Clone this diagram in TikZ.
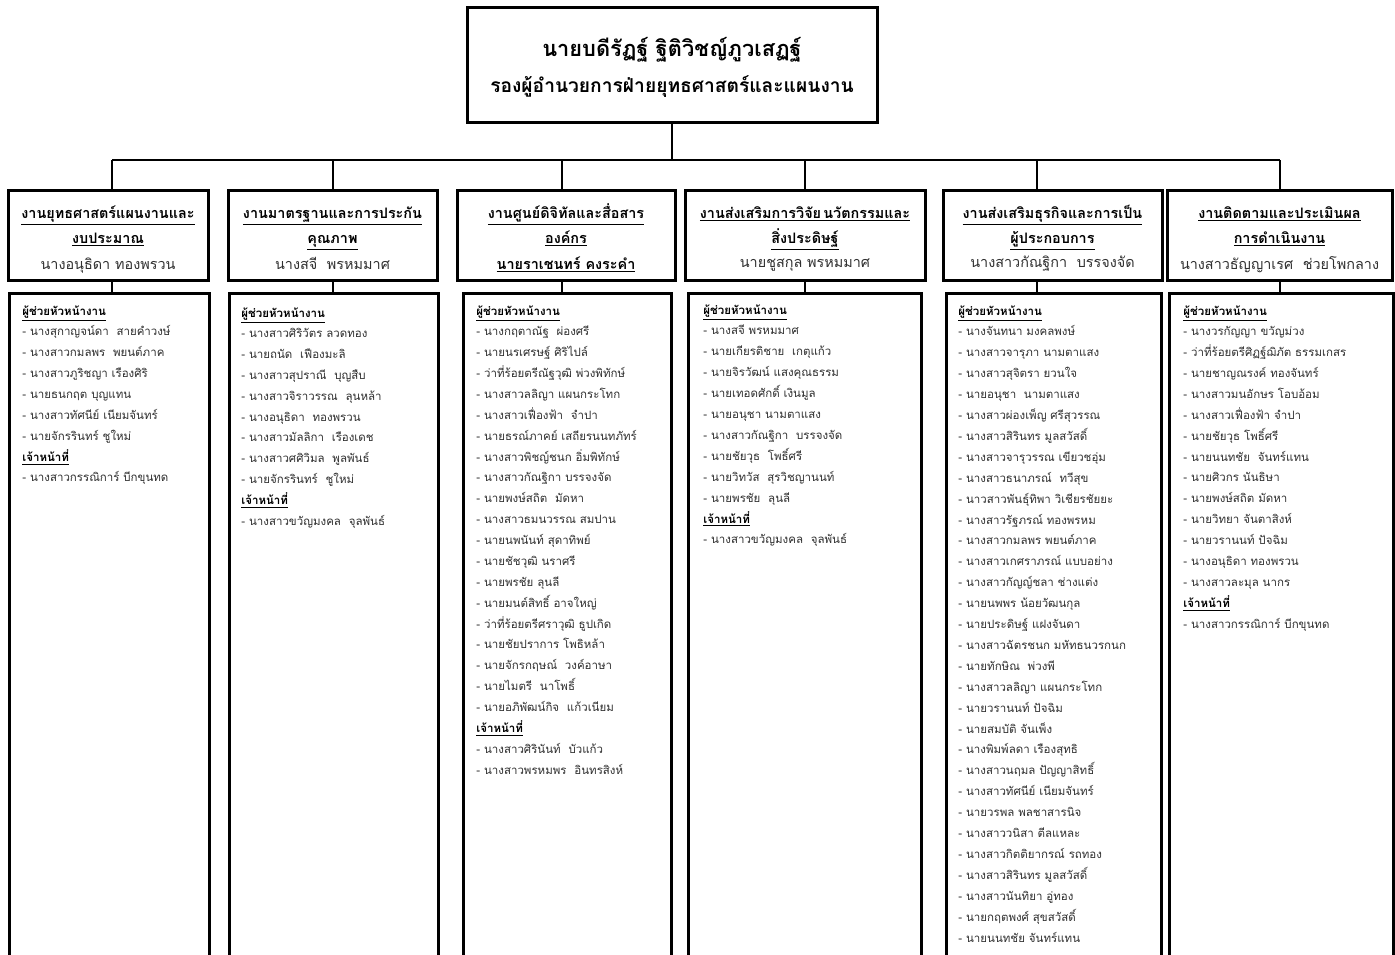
\documentclass[tikz,border=0pt]{standalone}
\usepackage{fontspec}
\setmainfont[Script=Thai]{Loma}
\usetikzlibrary{calc}
\definecolor{txt}{HTML}{303030}
\newcommand{\hd}[1]{\textcolor{black}{\textbf{\underline{#1}}}}
\newcommand{\ulb}[1]{\textbf{\underline{#1}}}
\begin{document}
\begin{tikzpicture}[x=0.5pt,y=-0.5pt,
  box/.style={draw, line width=1.5pt, inner sep=0pt, fill=white},
  conn/.style={line width=1pt},
  item/.style={anchor=base west, inner sep=0pt, font=\fontsize{5.75}{7}\selectfont, text=txt},
  htitle/.style={anchor=base, inner sep=0pt, font=\fontsize{7.2}{8}\selectfont},
  hname/.style={anchor=base, inner sep=0pt, font=\fontsize{7.2}{9}\selectfont, text=txt},
  ttitle/.style={anchor=base, inner sep=0pt, font=\fontsize{10.9}{12}\selectfont\bfseries},
  tsub/.style={anchor=base, inner sep=0pt, font=\fontsize{9.6}{12}\selectfont\bfseries},
]
\useasboundingbox (0,0) rectangle (1395,954);
\clip (0,0) rectangle (1395,954);
\fill[white] (0,0) rectangle (1395,954);

% top box
\node[box, minimum width=205pt, minimum height=57.5pt] (top) at (672,64.5) {};
\node[ttitle] (t1) at (672,56) {นายบดีรัฏฐ์ ฐิติวิชญ์ภูวเสฏฐ์};
\node[tsub] (t2) at (672,92) {รองผู้อำนวยการฝ่ายยุทธศาสตร์และแผนงาน};

% header boxes
\node[box, minimum width=100pt, minimum height=45pt] (h1) at (108,235) {};
\node[box, minimum width=104.5pt, minimum height=45pt] (h2) at (332.5,235) {};
\node[box, minimum width=109pt, minimum height=45pt] (h3) at (566,235) {};
\node[box, minimum width=120pt, minimum height=45pt] (h4) at (805,235) {};
\node[box, minimum width=109.5pt, minimum height=45pt] (h5) at (1052.5,235) {};
\node[box, minimum width=112.5pt, minimum height=45pt] (h6) at (1279.5,235) {};

% list boxes
\node[box, anchor=north west, minimum width=100pt, minimum height=360pt] (l1) at (8,292) {};
\node[box, anchor=north west, minimum width=104.5pt, minimum height=360pt] (l2) at (228,292) {};
\node[box, anchor=north west, minimum width=104pt, minimum height=360pt] (l3) at (462,292) {};
\node[box, anchor=north west, minimum width=116.5pt, minimum height=360pt] (l4) at (687,292) {};
\node[box, anchor=north west, minimum width=107.5pt, minimum height=360pt] (l5) at (945,292) {};
\node[box, anchor=north west, minimum width=112pt, minimum height=360pt] (l6) at (1168,292) {};

% connectors
\coordinate (d1) at (112,160);
\coordinate (d2) at (333,160);
\coordinate (d3) at (562,160);
\coordinate (d4) at (805,160);
\coordinate (d5) at (1037,160);
\coordinate (d6) at (1280,160);
\draw[conn] (top.south) -- (top.south |- d1);
\draw[conn] (d1) -- (d6);
\foreach \k in {1,...,6}{
  \draw[conn] (d\k) -- (d\k |- h\k.north);
  \draw[conn] (d\k |- h\k.south) -- (d\k |- l\k.north);
}

% header texts
\node[htitle] (h1a) at (108,218) {\ulb{งานยุทธศาสตร์แผนงานและ}};
\node[htitle] (h1b) at (108,243) {\ulb{งบประมาณ}};
\node[hname] (h1c) at (108,269) {นางอนุธิดา ทองพรวน};

\node[htitle] (h2a) at (332.5,218) {\ulb{งานมาตรฐานและการประกัน}};
\node[htitle] (h2b) at (332.5,243) {\ulb{คุณภาพ}};
\node[hname] (h2c) at (332.5,269) {นางสจี~~พรหมมาศ};

\node[htitle] (h3a) at (566,218) {\ulb{งานศูนย์ดิจิทัลและสื่อสาร}};
\node[htitle] (h3b) at (566,243) {\ulb{องค์กร}};
\node[htitle] (h3c) at (566,269) {\ulb{นายราเชนทร์ คงระคำ}};

\node[htitle] (h4a) at (805,218) {\ulb{งานส่งเสริมการวิจัย\hspace{0.15em}นวัตกรรมและ}};
\node[htitle] (h4b) at (805,243) {\ulb{สิ่งประดิษฐ์}};
\node[hname] (h4c) at (805,267) {นายชูสกุล พรหมมาศ};

\node[htitle] (h5a) at (1052.5,218) {\ulb{งานส่งเสริมธุรกิจและการเป็น}};
\node[htitle] (h5b) at (1052.5,243) {\ulb{ผู้ประกอบการ}};
\node[hname] (h5c) at (1052.5,267) {นางสาวกัณฐิกา~~บรรจงจัด};

\node[htitle] (h6a) at (1279.5,218) {\ulb{งานติดตามและประเมินผล}};
\node[htitle] (h6b) at (1279.5,243) {\ulb{การดำเนินงาน}};
\node[hname] (h6c) at (1279.5,269) {นางสาวธัญญาเรศ~~ช่วยโพกลาง};

% list texts
\foreach \t [count=\i from 0] in {
  \hd{ผู้ช่วยหัวหน้างาน},
  - นางสุกาญจน์ดา~~สายคำวงษ์,
  - นางสาวกมลพร~~พยนต์ภาค,
  - นางสาวภูริชญา เรืองศิริ,
  - นายธนกฤต บุญแทน,
  - นางสาวทัศนีย์ เนียมจันทร์,
  - นายจักรรินทร์ ชูใหม่,
  \hd{เจ้าหน้าที่},
  - นางสาวกรรณิการ์ บีกขุนทด}
  { \node[item] (a\i) at (22,315+\i*20.87) {\t}; }

\foreach \t [count=\i from 0] in {
  \hd{ผู้ช่วยหัวหน้างาน},
  - นางสาวศิริวัตร ลวดทอง,
  - นายถนัด~~เฟืองมะลิ,
  - นางสาวสุปราณี~~บุญสืบ,
  - นางสาวจิราวรรณ~~ลุนหล้า,
  - นางอนุธิดา~~ทองพรวน,
  - นางสาวมัลลิกา~~เรืองเดช,
  - นางสาวศศิวิมล~~พูลพันธ์,
  - นายจักรรินทร์~~ชูใหม่,
  \hd{เจ้าหน้าที่},
  - นางสาวขวัญมงคล~~จุลพันธ์}
  { \node[item] (b\i) at (241,317+\i*20.8) {\t}; }

\foreach \t [count=\i from 0] in {
  \hd{ผู้ช่วยหัวหน้างาน},
  - นางกฤตาณัฐ~~ผ่องศรี,
  - นายนรเศรษฐ์ ศิริไปล์,
  - ว่าที่ร้อยตรีณัฐวุฒิ พ่วงพิทักษ์,
  - นางสาวลลิญา แผนกระโทก,
  - นางสาวเฟื่องฟ้า~~จำปา,
  - นายธรณ์ภาคย์ เสถียรนนทภัทร์,
  - นางสาวพิชญ์ชนก อิ่มพิทักษ์,
  - นางสาวกัณฐิกา บรรจงจัด,
  - นายพงษ์สถิต~~มัดหา,
  - นางสาวธมนวรรณ สมปาน,
  - นายนพนันท์ สุดาทิพย์,
  - นายชัชวุฒิ นราศรี,
  - นายพรชัย ลุนลี,
  - นายมนต์สิทธิ์ อาจใหญ่,
  - ว่าที่ร้อยตรีศราวุฒิ ธูปเกิด,
  - นายชัยปราการ โพธิหล้า,
  - นายจักรกฤษณ์~~วงค์อาษา,
  - นายไมตรี~~นาโพธิ์,
  - นายอภิพัฒน์กิจ~~แก้วเนียม,
  \hd{เจ้าหน้าที่},
  - นางสาวศิรินันท์~~บัวแก้ว,
  - นางสาวพรหมพร~~อินทรสิงห์}
  { \node[item] (c\i) at (476,315+\i*20.87) {\t}; }

\foreach \t [count=\i from 0] in {
  \hd{ผู้ช่วยหัวหน้างาน},
  - นางสจี พรหมมาศ,
  - นายเกียรติชาย~~เกตุแก้ว,
  - นายจิรวัฒน์ แสงคุณธรรม,
  - นายเทอดศักดิ์ เงินมูล,
  - นายอนุชา นามตาแสง,
  - นางสาวกัณฐิกา~~บรรจงจัด,
  - นายชัยวุธ~~โพธิ์ศรี,
  - นายวิทวัส~~สุรวิชญานนท์,
  - นายพรชัย~~ลุนลี,
  \hd{เจ้าหน้าที่},
  - นางสาวขวัญมงคล~~จุลพันธ์}
  { \node[item] (e\i) at (703,314+\i*20.9) {\t}; }

\foreach \t [count=\i from 0] in {
  \hd{ผู้ช่วยหัวหน้างาน},
  - นางจันทนา มงคลพงษ์,
  - นางสาวจารุภา นามตาแสง,
  - นางสาวสุจิตรา ยวนใจ,
  - นายอนุชา~~นามตาแสง,
  - นางสาวผ่องเพ็ญ ศรีสุวรรณ,
  - นางสาวสิรินทร มูลสวัสดิ์,
  - นางสาวจารุวรรณ เขียวชอุ่ม,
  - นางสาวธนาภรณ์~~ทวีสุข,
  - นาวสาวพันธุ์ทิพา วิเชียรชัยยะ,
  - นางสาวรัฐภรณ์ ทองพรหม,
  - นางสาวกมลพร พยนต์ภาค,
  - นางสาวเกศราภรณ์ แบบอย่าง,
  - นางสาวกัญญ์ชลา ช่างแต่ง,
  - นายนพพร น้อยวัฒนกุล,
  - นายประดิษฐ์ แฝงจันดา,
  - นางสาวฉัตรชนก มหัทธนวรกนก,
  - นายทักษิณ~~พ่วงพี,
  - นางสาวลลิญา แผนกระโทก,
  - นายวรานนท์ ปัจฉิม,
  - นายสมบัติ จันเพ็ง,
  - นางพิมพ์ลดา เรืองสุทธิ,
  - นางสาวนฤมล ปัญญาสิทธิ์,
  - นางสาวทัศนีย์ เนียมจันทร์,
  - นายวรพล พลชาสารนิจ,
  - นางสาววนิสา ตีลแหละ,
  - นางสาวกิตติยากรณ์ รถทอง,
  - นางสาวสิรินทร มูลสวัสดิ์,
  - นางสาวนันทิยา อู่ทอง,
  - นายกฤตพงศ์ สุขสวัสดิ์,
  - นายนนทชัย จันทร์แทน}
  { \node[item] (f\i) at (958,315+\i*20.9) {\t}; }

\foreach \t [count=\i from 0] in {
  \hd{ผู้ช่วยหัวหน้างาน},
  - นางวรกัญญา ขวัญม่วง,
  - ว่าที่ร้อยตรีศิฏฐ์ฌิภัต ธรรมเกสร,
  - นายชาญณรงค์ ทองจันทร์,
  - นางสาวมนอักษร โอบอ้อม,
  - นางสาวเฟื่องฟ้า จำปา,
  - นายชัยวุธ โพธิ์ศรี,
  - นายนนทชัย~~จันทร์แทน,
  - นายศิวกร นันธิษา,
  - นายพงษ์สถิต มัดหา,
  - นายวิทยา จันตาสิงห์,
  - นายวรานนท์ ปัจฉิม,
  - นางอนุธิดา ทองพรวน,
  - นางสาวละมุล นากร,
  \hd{เจ้าหน้าที่},
  - นางสาวกรรณิการ์ บีกขุนทด}
  { \node[item] (g\i) at (1183,315+\i*20.87) {\t}; }
\end{tikzpicture}
\end{document}
